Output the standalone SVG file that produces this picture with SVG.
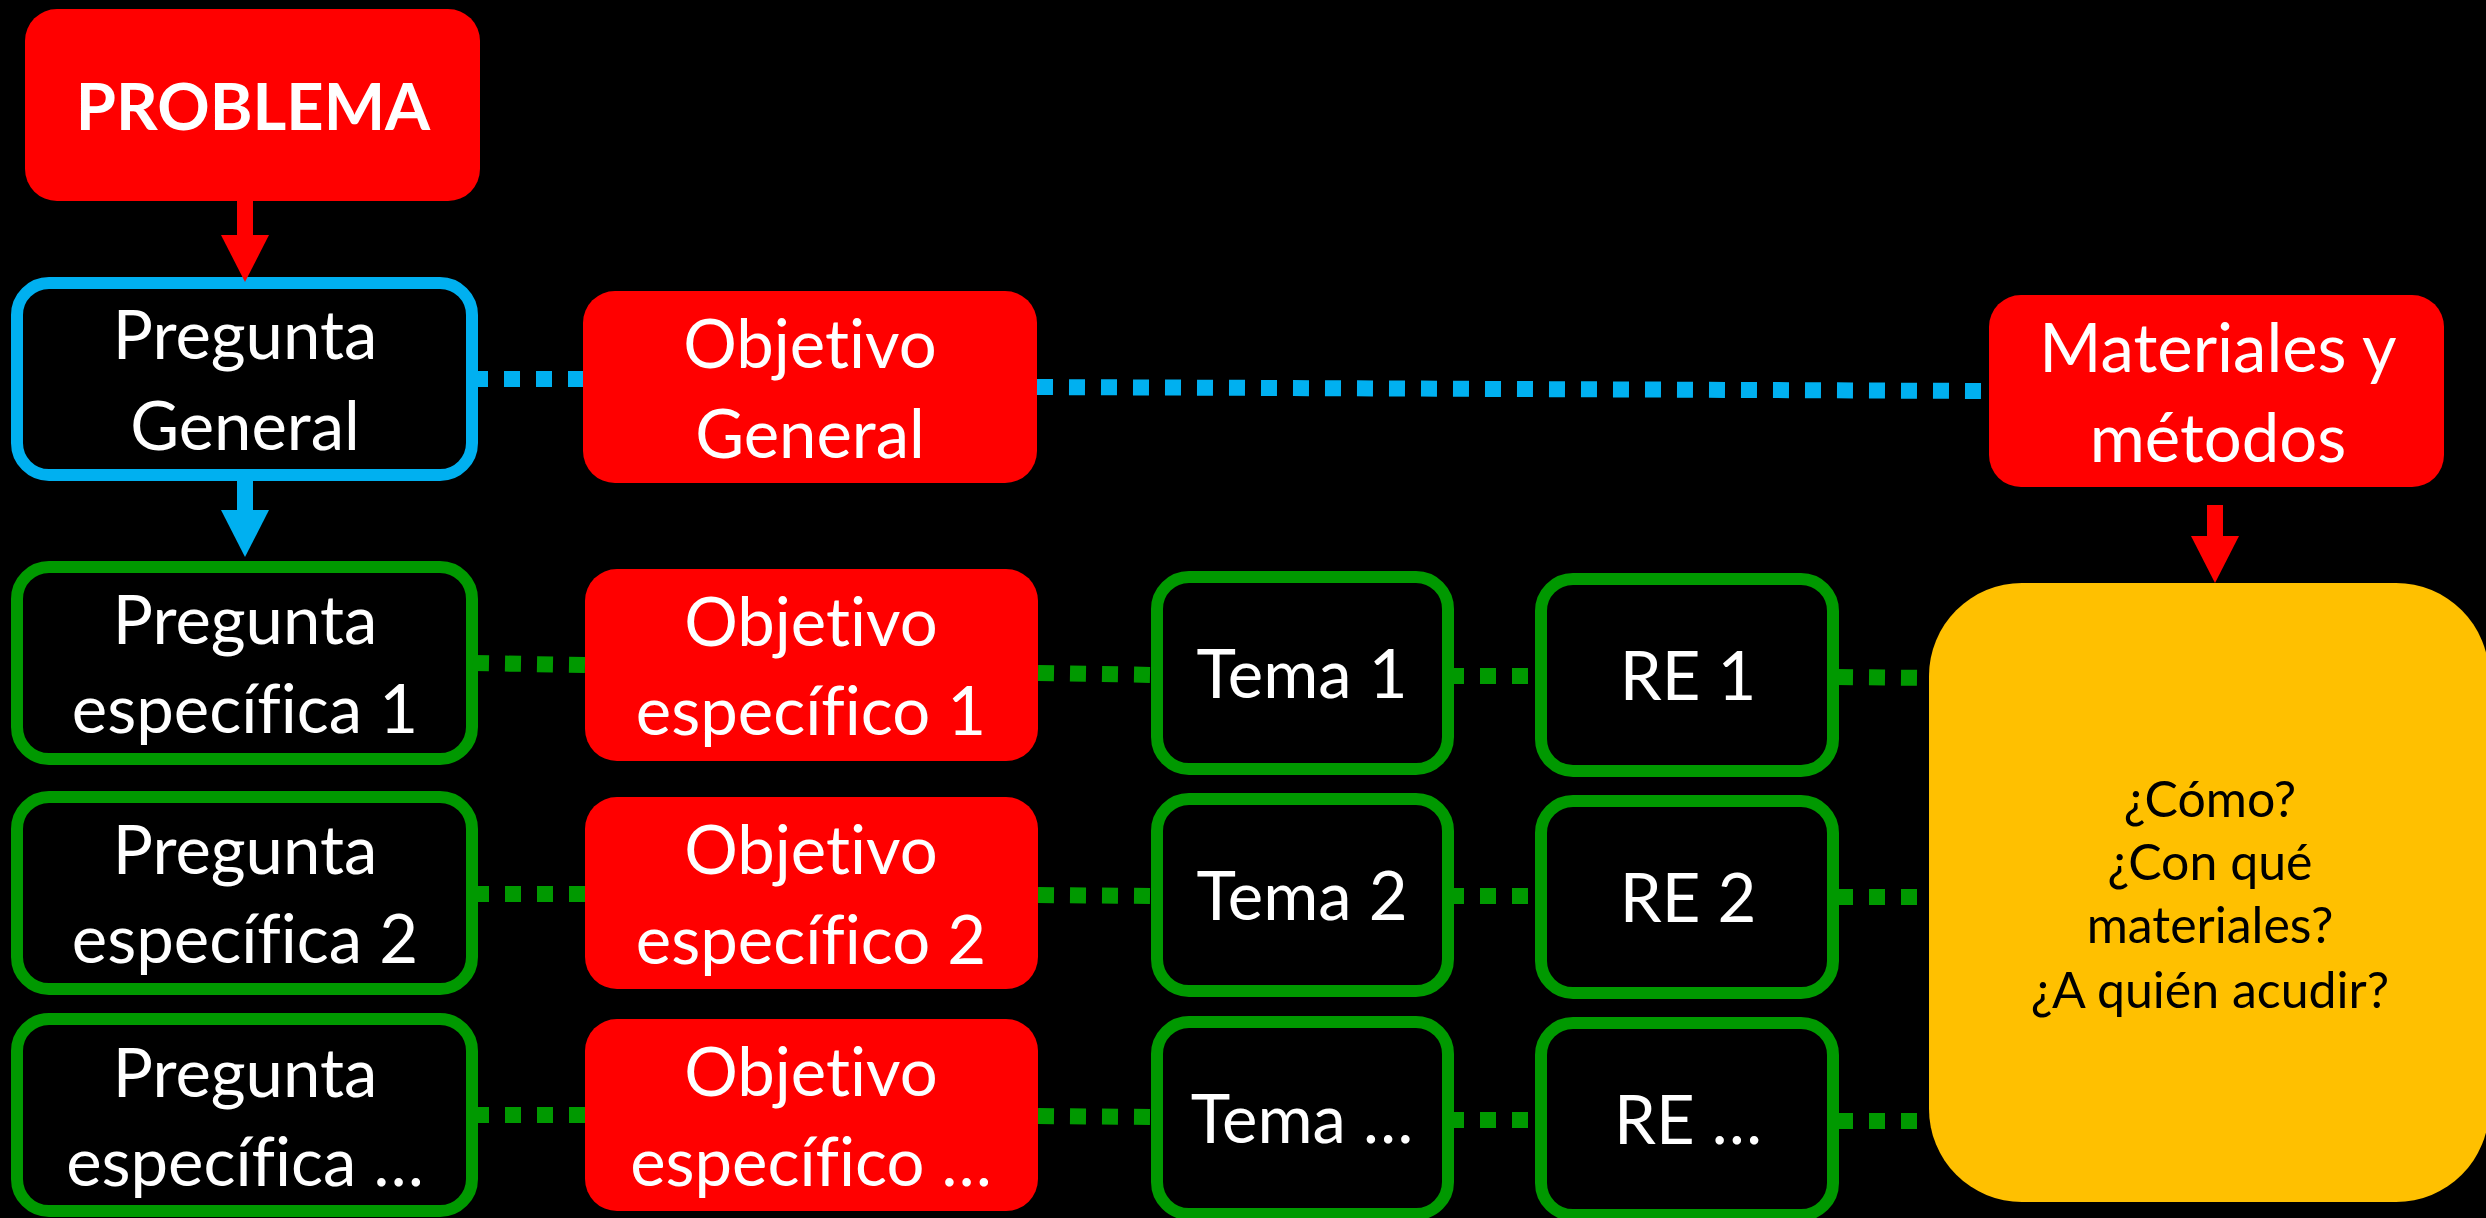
<svg xmlns="http://www.w3.org/2000/svg" width="2486" height="1218" viewBox="0 0 2486 1218">
<defs>
<style>
.bg{fill:#000}
.red{fill:#FF0000}
.blueBox{fill:#000;stroke:#00B0F0;stroke-width:12}
.greenBox{fill:#000;stroke:#009900;stroke-width:12}
.yellow{fill:#FFC000}
text{font-family:Lato,'Liberation Sans',sans-serif;text-anchor:middle;font-variant-ligatures:none;font-feature-settings:"liga" 0}
.t{font-size:67px;fill:#fff}
.tb{font-size:65px;font-weight:bold;fill:#fff}
.ty{font-size:50px;fill:#000}
.dotB{stroke:#00B0F0;stroke-width:16;stroke-dasharray:16 16;fill:none}
.dotG{stroke:#009900;stroke-width:16;stroke-dasharray:16 16;fill:none}
.arrR{stroke:#FF0000;stroke-width:16;fill:none}
.arrB{stroke:#00B0F0;stroke-width:16;fill:none}
</style>
<marker id="headR" viewBox="0 0 47 48" refX="5" refY="24" markerWidth="47" markerHeight="48" markerUnits="userSpaceOnUse" orient="auto">
<path d="M0,0 L47,24 L0,48 Z" fill="#FF0000"/>
</marker>
<marker id="headB" viewBox="0 0 47 48" refX="5" refY="24" markerWidth="47" markerHeight="48" markerUnits="userSpaceOnUse" orient="auto">
<path d="M0,0 L47,24 L0,48 Z" fill="#00B0F0"/>
</marker>
</defs>
<rect class="bg" x="0" y="0" width="2486" height="1218"/>

<g id="nodes">
<g id="problema">
<rect class="red" x="25" y="9" width="455" height="192" rx="32"/>
<text class="tb" x="253" y="130">PROBLEMA</text>
</g>
<g id="pregunta-general">
<rect class="blueBox" x="17" y="283" width="455" height="192" rx="32"/>
<text class="t" x="245" y="359">Pregunta</text>
<text class="t" x="245" y="450">General</text>
</g>
<g id="objetivo-general">
<rect class="red" x="583" y="291" width="454" height="192" rx="32"/>
<text class="t" x="810" y="368">Objetivo</text>
<text class="t" x="810" y="458">General</text>
</g>
<g id="materiales-metodos">
<rect class="red" x="1989" y="295" width="455" height="192" rx="32"/>
<text class="t" x="2218" y="372">Materiales y</text>
<text class="t" x="2218" y="462">métodos</text>
</g>

<g id="pregunta-esp-1">
<rect class="greenBox" x="17" y="567" width="455" height="192" rx="32"/>
<text class="t" x="245" y="644">Pregunta</text>
<text class="t" x="245" y="733">específica 1</text>
</g>
<g id="pregunta-esp-2">
<rect class="greenBox" x="17" y="797" width="455" height="192" rx="32"/>
<text class="t" x="245" y="874">Pregunta</text>
<text class="t" x="245" y="963">específica 2</text>
</g>
<g id="pregunta-esp-3">
<rect class="greenBox" x="17" y="1019" width="455" height="192" rx="32"/>
<text class="t" x="245" y="1097">Pregunta</text>
<text class="t" x="245" y="1186">específica …</text>
</g>

<g id="objetivo-esp-1">
<rect class="red" x="585" y="569" width="453" height="192" rx="32"/>
<text class="t" x="811" y="646">Objetivo</text>
<text class="t" x="811" y="735">específico 1</text>
</g>
<g id="objetivo-esp-2">
<rect class="red" x="585" y="797" width="453" height="192" rx="32"/>
<text class="t" x="811" y="874">Objetivo</text>
<text class="t" x="811" y="964">específico 2</text>
</g>
<g id="objetivo-esp-3">
<rect class="red" x="585" y="1019" width="453" height="192" rx="32"/>
<text class="t" x="811" y="1096">Objetivo</text>
<text class="t" x="811" y="1186">específico …</text>
</g>

<g id="tema-1">
<rect class="greenBox" x="1157" y="577" width="291" height="192" rx="32"/>
<text class="t" x="1302" y="698">Tema 1</text>
</g>
<g id="tema-2">
<rect class="greenBox" x="1157" y="799" width="291" height="192" rx="32"/>
<text class="t" x="1302" y="920">Tema 2</text>
</g>
<g id="tema-3">
<rect class="greenBox" x="1157" y="1022" width="291" height="192" rx="32"/>
<text class="t" x="1302" y="1143">Tema …</text>
</g>

<g id="re-1">
<rect class="greenBox" x="1541" y="579" width="292" height="192" rx="32"/>
<text class="t" x="1688" y="700">RE 1</text>
</g>
<g id="re-2">
<rect class="greenBox" x="1541" y="801" width="292" height="192" rx="32"/>
<text class="t" x="1688" y="922">RE 2</text>
</g>
<g id="re-3">
<rect class="greenBox" x="1541" y="1023" width="292" height="192" rx="32"/>
<text class="t" x="1688" y="1144">RE …</text>
</g>

<g id="como">
<rect class="yellow" x="1929" y="583" width="560" height="619" rx="93"/>
<text class="ty" x="2210" y="817">¿Cómo?</text>
<text class="ty" x="2210" y="880">¿Con qué</text>
<text class="ty" x="2210" y="943">materiales?</text>
<text class="ty" x="2210" y="1008">¿A quién acudir?</text>
</g>
</g>

<g id="connectors">
<line class="dotB" x1="472" y1="379" x2="583" y2="379"/>
<line class="dotB" x1="1037" y1="387" x2="1989" y2="391"/>

<line class="dotG" x1="473" y1="663" x2="585" y2="665"/>
<line class="dotG" x1="1038" y1="673" x2="1157" y2="675"/>
<line class="dotG" x1="1448" y1="676" x2="1541" y2="676"/>
<line class="dotG" x1="1837" y1="677" x2="1929" y2="678"/>

<line class="dotG" x1="473" y1="894" x2="585" y2="894"/>
<line class="dotG" x1="1038" y1="895" x2="1157" y2="896"/>
<line class="dotG" x1="1448" y1="896" x2="1541" y2="896"/>
<line class="dotG" x1="1837" y1="897" x2="1929" y2="897"/>

<line class="dotG" x1="473" y1="1115" x2="585" y2="1115"/>
<line class="dotG" x1="1038" y1="1116" x2="1157" y2="1117"/>
<line class="dotG" x1="1448" y1="1120" x2="1541" y2="1120"/>
<line class="dotG" x1="1837" y1="1121" x2="1929" y2="1121"/>

<line class="arrR" x1="245" y1="201" x2="245" y2="240" marker-end="url(#headR)"/>
<line class="arrB" x1="245" y1="481" x2="245" y2="515" marker-end="url(#headB)"/>
<line class="arrR" x1="2215" y1="505" x2="2215" y2="541" marker-end="url(#headR)"/>
</g>
</svg>
